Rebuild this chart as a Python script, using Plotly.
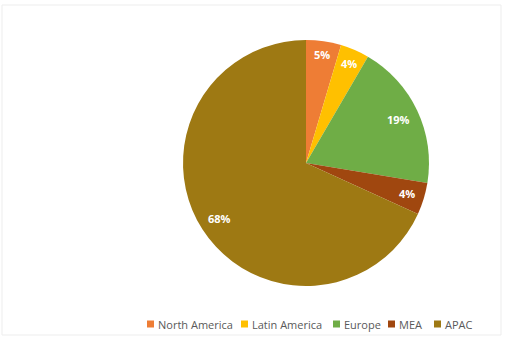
import math
import plotly.graph_objects as go

regions = ["North America", "Latin America", "Europe", "MEA", "APAC"]
shares = [4.6, 3.8, 19.2, 4.2, 68.2]
colors = ["#EE7D35", "#FFC000", "#6FAD46", "#A0470F", "#9E7913"]

W, H = 505, 349
# pie geometry (pixels)
CX, CY, R = 306, 163, 123
label_r = [0.89, 0.88, 0.83, 0.86, 0.84]
legend_x = [147, 241, 333, 388, 434]
legend_y = 324

fig = go.Figure(go.Pie(
    labels=regions,
    values=shares,
    sort=False,
    direction="clockwise",
    rotation=0,
    marker=dict(colors=colors, line=dict(color="white", width=0)),
    textinfo="none",
    domain=dict(x=[(CX - R) / W, (CX + R) / W], y=[1 - (CY + R) / H, 1 - (CY - R) / H]),
    hoverinfo="label+percent",
    showlegend=False,
))

annotations = []
shapes = []
total = sum(shares)
cum = 0.0
for i, (name, v) in enumerate(zip(regions, shares)):
    mid = (cum + v / 2) / total * 2 * math.pi
    cum += v
    r = R * label_r[i]
    px = CX + r * math.sin(mid)
    py = CY - r * math.cos(mid)
    annotations.append(dict(
        x=px / W, y=1 - py / H, xref="paper", yref="paper",
        text="<b>%d%%</b>" % round(v / total * 100),
        showarrow=False, xanchor="center", yanchor="middle",
        font=dict(color="white", size=11, family="Open Sans"),
    ))
    # legend entry
    lx = legend_x[i]
    shapes.append(dict(type="rect", xref="paper", yref="paper",
                       x0=lx / W, x1=(lx + 7) / W,
                       y0=1 - (legend_y + 3.5) / H, y1=1 - (legend_y - 3.5) / H,
                       fillcolor=colors[i], line=dict(width=0)))
    annotations.append(dict(
        x=(lx + 9) / W, y=1 - legend_y / H, xref="paper", yref="paper",
        text=name, showarrow=False, xanchor="left", yanchor="middle",
        font=dict(color="#595959", size=11, family="Open Sans"),
    ))

shapes.append(dict(type="rect", xref="paper", yref="paper",
                   x0=2 / W, x1=501 / W, y0=1 - 335 / H, y1=1 - 5 / H,
                   line=dict(color="#EDEDED", width=1)))

fig.update_layout(
    width=W, height=H,
    margin=dict(l=0, r=0, t=0, b=0),
    paper_bgcolor="white",
    plot_bgcolor="white",
    font=dict(family="Open Sans", color="#595959", size=11),
    showlegend=False,
    annotations=annotations,
    shapes=shapes,
)

fig.write_html("out.html")
